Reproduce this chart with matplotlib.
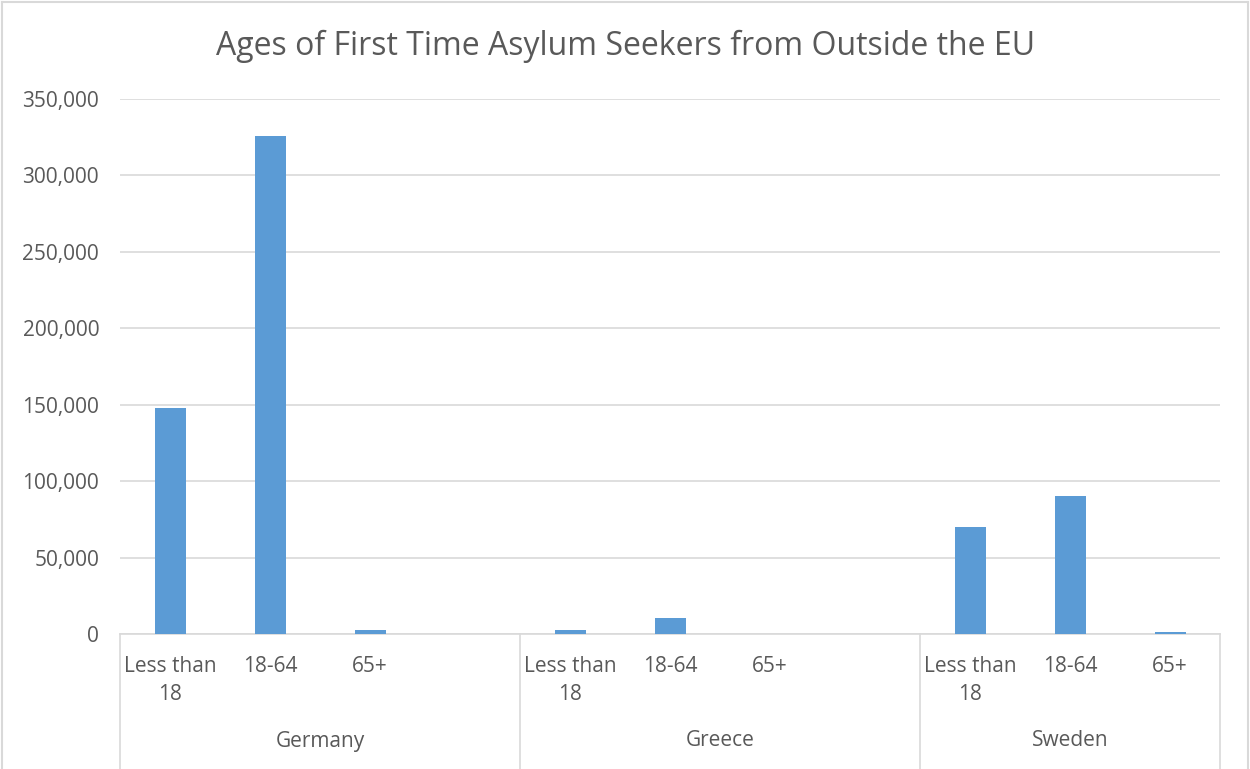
import matplotlib
matplotlib.use("Agg")
import matplotlib.pyplot as plt
from matplotlib.lines import Line2D

countries = ["Germany", "Greece", "Sweden"]
age_groups = ["Less than\n18", "18-64", "65+"]
germany = [148000, 325500, 2600]
greece = [2300, 10500, 100]
sweden = [70000, 90300, 1300]
yticks = [0, 50000, 100000, 150000, 200000, 250000, 300000, 350000]

series = [germany, greece, sweden]
# slots per country (Germany and Greece have a blank 4th category)
slots_per_country = [4, 4, 3]

BAR = "#5B9BD5"
GRID = "#D9D9D9"
TXT = "#595959"
FONT = ["Open Sans", "DejaVu Sans"]
plt.rcParams["font.family"] = FONT

fig = plt.figure(figsize=(12.5, 7.69), dpi=100)
W, H = 1250, 769
ax = fig.add_axes([120 / W, (H - 634) / H, 1100 / W, 535 / H])

x_pos, heights, labels, groups = [], [], [], []
start = 0
for c, vals, n in zip(countries, series, slots_per_country):
    pos = [start + i for i in range(len(vals))]
    x_pos += pos
    heights += vals
    labels += age_groups[:len(vals)]
    groups.append((c, start, start + n))
    start += n

ax.bar(x_pos, heights, width=0.31, color=BAR, zorder=3)
ax.set_xlim(-0.5, start - 0.5)
ax.set_ylim(0, 350000)
ax.set_yticks(yticks)
ax.set_yticklabels([f"{v:,}" for v in yticks], fontsize=15, color=TXT)
ax.tick_params(axis="y", length=0, pad=15)
ax.set_xticks([])
ax.yaxis.grid(True, color=GRID, linewidth=1.2, zorder=0)
for s in ["top", "right", "left"]:
    ax.spines[s].set_visible(False)
ax.spines["bottom"].set_color(GRID)
ax.spines["bottom"].set_linewidth(1.2)

trans = ax.get_xaxis_transform()
for x, lab in zip(x_pos, labels):
    ax.text(x, -(656 - 634) / 535, lab, transform=trans, ha="center", va="top",
            fontsize=15, color=TXT, linespacing=1.45, clip_on=False)
for c, s0, s1 in groups:
    ax.text((s0 + s1 - 1) / 2, -(741 - 634) / 535, c, transform=trans,
            ha="center", va="center", fontsize=15, color=TXT, clip_on=False)
bounds = [-0.5] + [s1 - 0.5 for _, _, s1 in groups]
for b in bounds:
    ax.add_line(Line2D([b, b], [0, -(H - 634 + 5) / 535], transform=trans,
                       color=GRID, linewidth=1.2, clip_on=False))

fig.text(626 / W, 1 - 46 / H, "Ages of First Time Asylum Seekers from Outside the EU",
         ha="center", va="center", fontsize=23, color=TXT)
# figure border (left, top, right)
for xs, ys in [([2 / W, 2 / W], [0, 1 - 1.5 / H]),
               ([2 / W, 1 - 2.5 / W], [1 - 1.5 / H, 1 - 1.5 / H]),
               ([1 - 2.5 / W, 1 - 2.5 / W], [0, 1 - 1.5 / H])]:
    fig.add_artist(Line2D(xs, ys, transform=fig.transFigure, color=GRID, linewidth=1.5))

fig.savefig("out.png", dpi=100)
